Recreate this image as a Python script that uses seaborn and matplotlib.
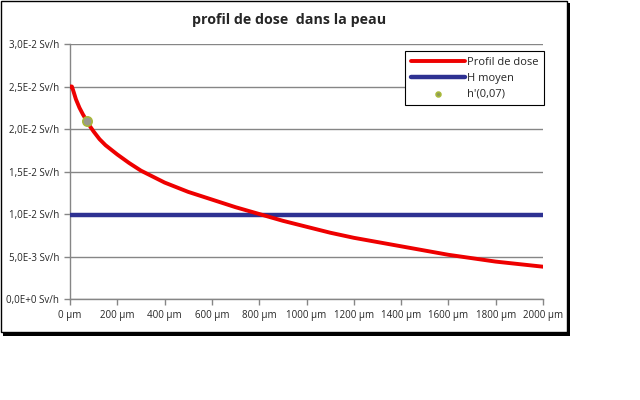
import seaborn as sns
import matplotlib.pyplot as plt
import pandas as pd
from matplotlib.patches import Rectangle
from matplotlib.ticker import FuncFormatter

# depth in skin (µm) and dose rate (Sv/h)
depth_um = [0, 8, 15, 25, 40, 55, 70, 85, 100, 125, 150, 200, 250, 300, 400, 500,
            600, 700, 800, 900, 1000, 1100, 1200, 1300, 1400, 1500, 1600, 1700,
            1800, 1900, 2000]
dose_svh = [0.0250, 0.0250, 0.0244, 0.0235, 0.0225, 0.0217, 0.0210, 0.0203,
            0.0197, 0.0188, 0.0181, 0.0170, 0.0160, 0.0151, 0.0137, 0.0126,
            0.0117, 0.0108, 0.0100, 0.0092, 0.0085, 0.0078, 0.0072, 0.0067,
            0.0062, 0.0057, 0.0052, 0.0048, 0.0044, 0.0041, 0.0038]
h_moyen = 0.0099
h_point_x = [70]
h_point_y = [0.0210]

x_ticks = list(range(0, 2001, 200))
y_ticks = [0.0, 0.005, 0.010, 0.015, 0.020, 0.025, 0.030]
y_labels = ["0,0E+0 Sv/h", "5,0E-3 Sv/h", "1,0E-2 Sv/h", "1,5E-2 Sv/h",
            "2,0E-2 Sv/h", "2,5E-2 Sv/h", "3,0E-2 Sv/h"]

sns.set_style("white")
plt.rcParams['font.family'] = ['Open Sans', 'DejaVu Sans']

fig = plt.figure(figsize=(6.4, 4), dpi=100)

# outer chart frame with shadow on the right and bottom (behind the axes)
fig.patches.append(Rectangle((3 / 640, 1 - 336 / 400), 567 / 640, 333 / 400,
                             transform=fig.transFigure, facecolor="black",
                             edgecolor="none", zorder=-5))
fig.patches.append(Rectangle((0.5 / 640, 1 - 332 / 400), 566 / 640, 331.5 / 400,
                             transform=fig.transFigure, facecolor="white",
                             edgecolor="black", linewidth=1, zorder=-4))

ax = fig.add_axes([70 / 640, 1 - 299 / 400, 473 / 640, 255 / 400])
ax.set_zorder(1)

profil = pd.DataFrame({"x": depth_um, "y": dose_svh})
moyen = pd.DataFrame({"x": [0, 2000], "y": [h_moyen, h_moyen]})
point = pd.DataFrame({"x": h_point_x, "y": h_point_y})

sns.lineplot(data=moyen, x="x", y="y", ax=ax, color="#2E3192", linewidth=3.2,
             label="H moyen", zorder=3)
sns.lineplot(data=profil, x="x", y="y", ax=ax, color="#EE0000", linewidth=2.8,
             label="Profil de dose", zorder=4)
sns.scatterplot(data=point, x="x", y="y", ax=ax, color="#9A9A8C", edgecolor="#A8B83A",
                s=45, linewidth=1.2, zorder=5, label="h'(0,07)", marker="o")

ax.set_xlim(0, 2000)
ax.set_ylim(0, 0.030)
ax.set_xticks(x_ticks)
ax.xaxis.set_major_formatter(FuncFormatter(lambda v, p: f"{int(v)} µm"))
ax.set_yticks(y_ticks)
ax.set_yticklabels(y_labels)
ax.set_xlabel("")
ax.set_ylabel("")
ax.grid(axis="y", color="#868686", linewidth=1)
ax.grid(axis="x", visible=False)
for s in ["top", "right"]:
    ax.spines[s].set_visible(False)
for s in ["left", "bottom"]:
    ax.spines[s].set_color("#868686")
    ax.spines[s].set_linewidth(1)
ax.tick_params(axis="both", which="major", length=4, width=1, color="#868686",
               labelsize=7, direction="out", bottom=True, left=True, pad=4)

# title centred on the whole chart frame, not on the plot area
fig.text(289 / 640, 1 - 20 / 400, "profil de dose  dans la peau", fontsize=10.3,
         fontweight="bold", ha="center", va="center")

# legend: order like the original
handles, labels = ax.get_legend_handles_labels()
order = [labels.index("Profil de dose"), labels.index("H moyen"), labels.index("h'(0,07)")]
leg = ax.legend([handles[i] for i in order], [labels[i] for i in order],
                loc="upper left", bbox_to_anchor=(335 / 473, 248 / 255), fontsize=8,
                frameon=True, fancybox=False, framealpha=1, edgecolor="black",
                borderpad=0.5, handlelength=4.9, handletextpad=0.15,
                labelspacing=0.45, borderaxespad=0)
leg.get_frame().set_linewidth(0.8)
leg.legend_handles[2].set_facecolor("#8C9A5A")
leg.legend_handles[2].set_edgecolor("#A8B83A")
leg.legend_handles[2].set_sizes([12])

fig.savefig("out.png", dpi=100)
